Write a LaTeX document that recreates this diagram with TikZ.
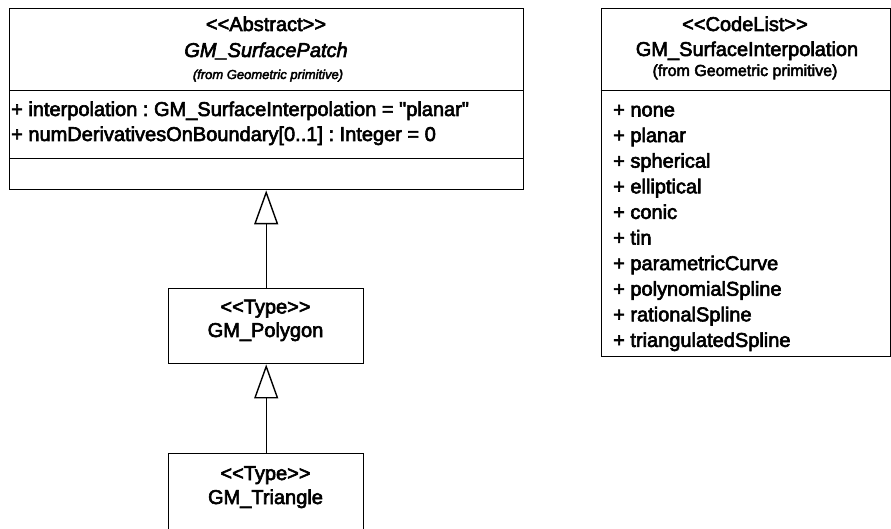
\documentclass[tikz,border=0pt]{standalone}
\usepackage{fontspec}
\setmainfont{Liberation Sans}[Ligatures=TeXOff,FakeBold=3]
\frenchspacing
\usetikzlibrary{arrows.meta,positioning}

\begin{document}
\begin{tikzpicture}[x=1pt,y=-1pt,line width=1.4pt,
    classbox/.style={draw,rectangle,inner sep=0pt,anchor=north west},
    label/.style={inner sep=0pt,anchor=base,font=\fontsize{20}{24}\selectfont},
    member/.style={inner sep=0pt,anchor=base west,font=\fontsize{20}{24}\selectfont},
    inherit/.style={-{Triangle[open,length=34pt,width=24pt]}}]
    \useasboundingbox (0,0) rectangle (891,529);
    % classes
    \node[classbox] (patch) [minimum width=514pt, minimum height=181pt] at (9,8) {};
    \node[classbox] (interp) [minimum width=289.5pt, minimum height=348pt] at (600.5,8) {};
    \node[classbox] (polygon) [minimum width=195pt, minimum height=75.5pt] at (168,287.5) {};
    \node[classbox] (triangle) [minimum width=195pt, minimum height=75.5pt] at (168,453) {};
    % compartments
    \draw (patch.west |- 0,90.5) -- (patch.east |- 0,90.5);
    \draw (patch.west |- 0,158.5) -- (patch.east |- 0,158.5);
    \draw (interp.west |- 0,90.5) -- (interp.east |- 0,90.5);
    % texts
    \node[label] (p1) at (266,31) {<<Abstract>>};
    \node[label] (p2) [font=\fontsize{20}{24}\selectfont\itshape] at (266,57) {GM\_SurfacePatch};
    \node[label] (p3) [font=\fontsize{13}{16}\selectfont\itshape] at (268,79) {(from Geometric primitive)};
    \node[member] (a1) at (10.5,116) {+ interpolation : GM\_SurfaceInterpolation = "planar"};
    \node[member] (a2) at (10.5,141) {+ numDerivativesOnBoundary[0..1] : Integer = 0};
    \node[label] (i1) at (745,31) {<<CodeList>>};
    \node[label] (i2) at (747,56) {GM\_SurfaceInterpolation};
    \node[label] (i3) [font=\fontsize{16}{19}\selectfont] at (745,76) {(from Geometric primitive)};
    \foreach \v [count=\k from 0] in {none,planar,spherical,elliptical,conic,tin,
        parametricCurve,polynomialSpline,rationalSpline,triangulatedSpline}
        \node[member] (v\k) at (612.5,116.5+25.6*\k) {+ \v};
    \node[label] (g1) at (265.5,313.5) {<<Type>>};
    \node[label] (g2) at (265.5,337) {GM\_Polygon};
    \node[label] (t1) at (265.5,480) {<<Type>>};
    \node[label] (t2) at (265.5,504) {GM\_Triangle};
    % generalisations
    \draw[inherit] (polygon.north) -- (polygon.north |- patch.south);
    \draw[inherit] (triangle.north) -- (triangle.north |- polygon.south);
\end{tikzpicture}
\end{document}
